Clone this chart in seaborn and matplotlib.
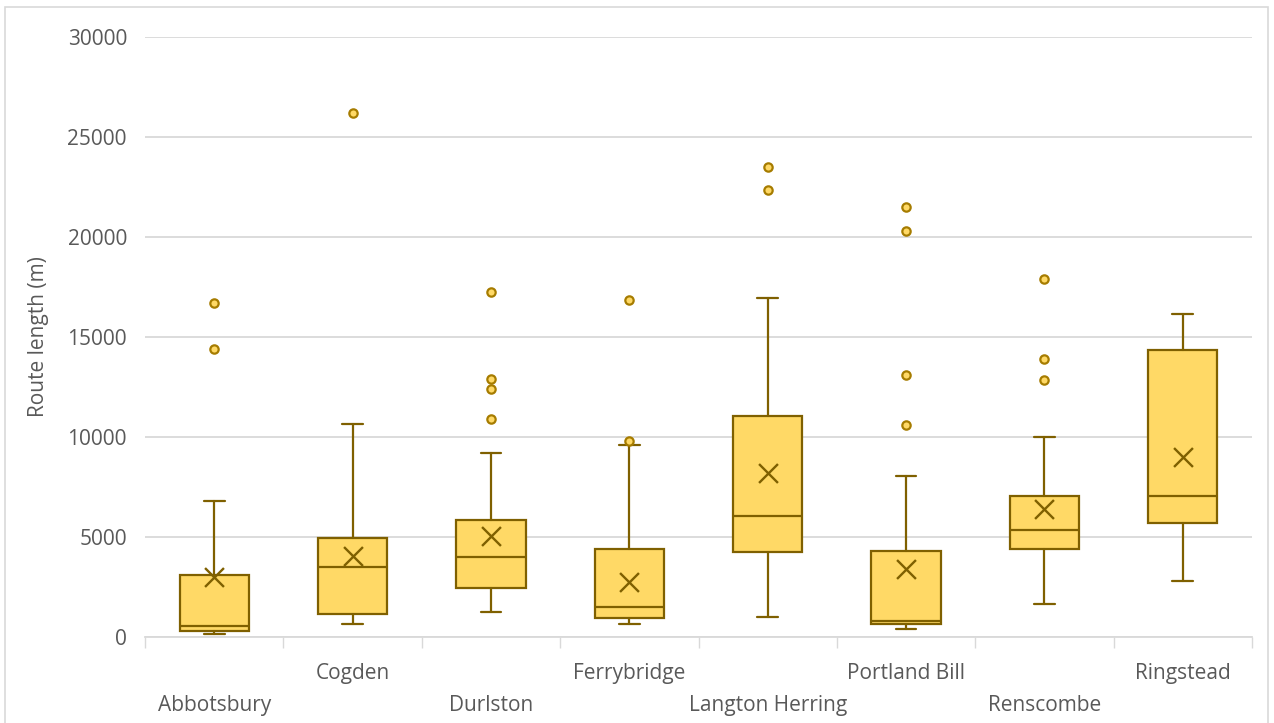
import numpy as np
import pandas as pd
import seaborn as sns
import matplotlib

matplotlib.use("Agg")

import matplotlib.pyplot as plt
from matplotlib.patches import Rectangle

sites = ["Abbotsbury", "Cogden", "Durlston", "Ferrybridge",
         "Langton Herring", "Portland Bill", "Renscombe", "Ringstead"]
whisker_low = [150, 630, 1270, 630, 1020, 380, 1650, 2780]
q1 = [300, 1150, 2470, 930, 4230, 630, 4400, 5680]
median = [550, 3500, 4000, 1480, 6070, 800, 5350, 7050]
q3 = [3100, 4930, 5850, 4380, 11030, 4320, 7050, 14330]
whisker_high = [6800, 10630, 9180, 9600, 16970, 8070, 9980, 16170]
means = [3000, 4050, 5070, 2750, 8220, 3400, 6380, 9020]
outliers = [[16700, 14400], [26200], [17250, 12920, 12380, 10920],
            [16850, 9800], [23500, 22370], [21500, 20300, 13080, 10600],
            [17880, 13880, 12850], []]

fill = "#FFD966"
edge = "#7F6000"
dot_edge = "#A67C00"
grey = "#595959"
grid = "#D9D9D9"

sns.set_theme(style="white")
plt.rcParams['font.family'] = ['Open Sans', 'DejaVu Sans']

fig = plt.figure(figsize=(12.74, 7.23), dpi=100)
ax = fig.add_axes([145 / 1274, 86 / 723, 1107 / 1274, 600 / 723])

stats = []
for i, name in enumerate(sites):
    stats.append(dict(label=name, whislo=whisker_low[i], q1=q1[i], med=median[i],
                      q3=q3[i], whishi=whisker_high[i], mean=means[i], fliers=[]))

ax.bxp(stats, positions=np.arange(len(sites)), widths=0.5, patch_artist=True,
       showfliers=False, showmeans=False,
       boxprops=dict(facecolor=fill, edgecolor=edge, linewidth=1.6),
       medianprops=dict(color=edge, linewidth=1.6),
       whiskerprops=dict(color=edge, linewidth=1.6),
       capprops=dict(color=edge, linewidth=1.6),
       capwidths=0.15, zorder=3)

mean_df = pd.DataFrame({"pos": np.arange(len(sites)), "mean": means})
sns.scatterplot(data=mean_df, x="pos", y="mean", marker="x", s=185,
                color=edge, linewidth=1.7, ax=ax, zorder=4)

out_df = pd.DataFrame([(i, v) for i, vals in enumerate(outliers) for v in vals],
                      columns=["pos", "value"])
sns.scatterplot(data=out_df, x="pos", y="value", marker="o", s=36,
                facecolor=fill, edgecolor=dot_edge, linewidth=1.6, ax=ax, zorder=4)

ax.set_xlim(-0.5, len(sites) - 0.5)
ax.set_ylim(0, 30000)
ax.set_yticks(range(0, 30001, 5000))
ax.yaxis.grid(True, color=grid, linewidth=1.3)
ax.set_axisbelow(True)

# alternate labels drop to a second row, like Excel does when they don't fit
labels = [("\n" + s) if i % 2 == 0 else s for i, s in enumerate(sites)]
ax.set_xticks(np.arange(len(sites)))
ax.set_xticklabels(labels, linespacing=1.65)
ax.set_xticks(np.arange(-0.5, len(sites), 1.0), minor=True)
ax.tick_params(axis="x", which="major", length=0, pad=19, labelsize=15, labelcolor=grey)
ax.tick_params(axis="x", which="minor", length=8, width=1, color=grid, direction="out", bottom=True)
ax.tick_params(axis="y", length=0, pad=13, labelsize=15, labelcolor=grey)

for side in ["left", "right", "top"]:
    ax.spines[side].set_visible(False)
ax.spines["bottom"].set_color(grid)
ax.spines["bottom"].set_linewidth(1.3)

ax.set_xlabel("")
ax.set_ylabel("Route length (m)", fontsize=15, color=grey)
ax.yaxis.set_label_coords(-0.087, 0.5)

fig.patches.append(Rectangle((5 / 1274, -0.02), 1263 / 1274, 1.02 - 7 / 723,
                             transform=fig.transFigure, fill=False,
                             edgecolor=grid, linewidth=1.2))

fig.savefig("out.png", dpi=100)
